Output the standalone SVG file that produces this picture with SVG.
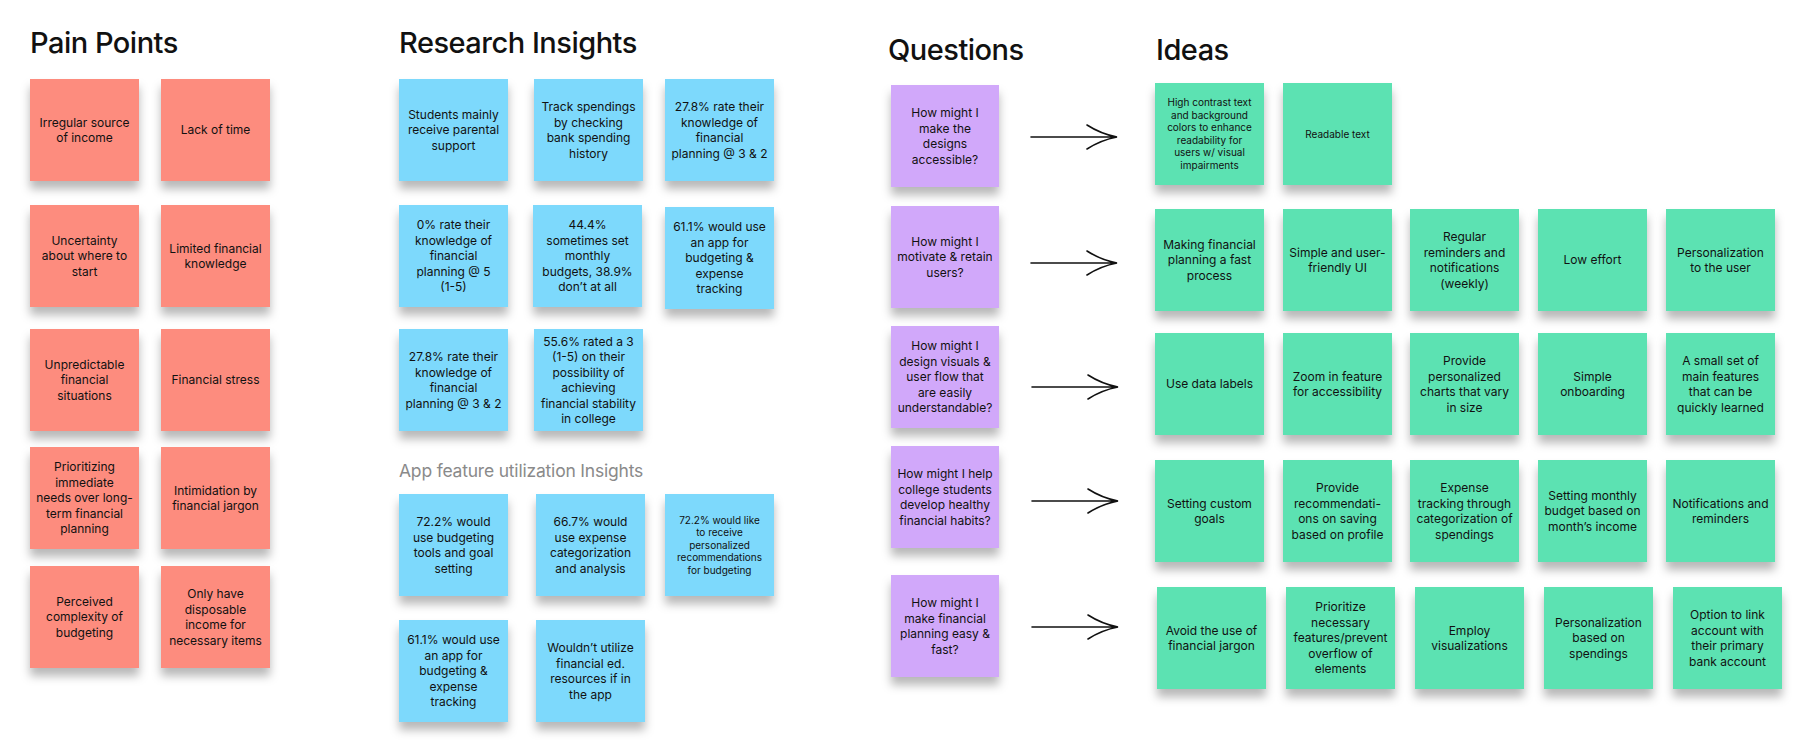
<svg xmlns="http://www.w3.org/2000/svg" width="1798" height="742" viewBox="0 0 1798 742">
<defs>
<filter id="sh" x="-20%" y="-20%" width="140%" height="160%">
<feDropShadow dx="0" dy="8" stdDeviation="5" flood-color="#000" flood-opacity="0.28"/>
</filter>
<style>
.pain{fill:#FD8C7E;filter:url(#sh)}
.blue{fill:#7DD9FC;filter:url(#sh)}
.purp{fill:#D1A8FA;filter:url(#sh)}
.green{fill:#5CE2B2;filter:url(#sh)}
.t{font-family:Inter,"Liberation Sans",sans-serif;font-size:12px;fill:#111;text-anchor:middle}
.s{font-family:Inter,"Liberation Sans",sans-serif;font-size:10px;fill:#111;text-anchor:middle}
.h{font-family:Inter,"Liberation Sans",sans-serif;font-size:29px;font-weight:500;fill:#111;letter-spacing:-0.5px}
.sub{font-family:Inter,"Liberation Sans",sans-serif;font-size:17.5px;fill:#8a8a8a;letter-spacing:-0.2px}
.arr{fill:none;stroke:#111;stroke-width:1.6;stroke-linecap:round}
</style>
</defs>
<rect width="1798" height="742" fill="#fff"/>

<text class="h" x="30" y="53">Pain Points</text>
<text class="h" x="399" y="53">Research Insights</text>
<text class="sub" x="399" y="477">App feature utilization Insights</text>
<text class="h" x="888" y="60">Questions</text>
<text class="h" x="1156" y="60">Ideas</text>

<!-- Pain points -->
<g id="p1"><rect class="pain" x="30" y="79" width="109" height="102"/><text class="t" y="126.5"><tspan x="84.5">Irregular source</tspan><tspan x="84.5" dy="15.5">of income</tspan></text></g>
<g id="p2"><rect class="pain" x="161" y="79" width="109" height="102"/><text class="t" y="134.3"><tspan x="215.5">Lack of time</tspan></text></g>
<g id="p3"><rect class="pain" x="30" y="205" width="109" height="102"/><text class="t" y="244.8"><tspan x="84.5">Uncertainty</tspan><tspan x="84.5" dy="15.5">about where to</tspan><tspan x="84.5" dy="15.5">start</tspan></text></g>
<g id="p4"><rect class="pain" x="161" y="205" width="109" height="102"/><text class="t" y="252.5"><tspan x="215.5">Limited financial</tspan><tspan x="215.5" dy="15.5">knowledge</tspan></text></g>
<g id="p5"><rect class="pain" x="30" y="329" width="109" height="102"/><text class="t" y="368.8"><tspan x="84.5">Unpredictable</tspan><tspan x="84.5" dy="15.5">financial</tspan><tspan x="84.5" dy="15.5">situations</tspan></text></g>
<g id="p6"><rect class="pain" x="161" y="329" width="109" height="102"/><text class="t" y="384.3"><tspan x="215.5">Financial stress</tspan></text></g>
<g id="p7"><rect class="pain" x="30" y="447" width="109" height="102"/><text class="t" y="471.3"><tspan x="84.5">Prioritizing</tspan><tspan x="84.5" dy="15.5">immediate</tspan><tspan x="84.5" dy="15.5">needs over long-</tspan><tspan x="84.5" dy="15.5">term financial</tspan><tspan x="84.5" dy="15.5">planning</tspan></text></g>
<g id="p8"><rect class="pain" x="161" y="447" width="109" height="102"/><text class="t" y="494.5"><tspan x="215.5">Intimidation by</tspan><tspan x="215.5" dy="15.5">financial jargon</tspan></text></g>
<g id="p9"><rect class="pain" x="30" y="566" width="109" height="102"/><text class="t" y="605.8"><tspan x="84.5">Perceived</tspan><tspan x="84.5" dy="15.5">complexity of</tspan><tspan x="84.5" dy="15.5">budgeting</tspan></text></g>
<g id="p10"><rect class="pain" x="161" y="566" width="109" height="102"/><text class="t" y="598"><tspan x="215.5">Only have</tspan><tspan x="215.5" dy="15.5">disposable</tspan><tspan x="215.5" dy="15.5">income for</tspan><tspan x="215.5" dy="15.5">necessary items</tspan></text></g>

<!-- Research insights -->
<g id="r1"><rect class="blue" x="399" y="79" width="109" height="102"/><text class="t" y="118.8"><tspan x="453.5">Students mainly</tspan><tspan x="453.5" dy="15.5">receive parental</tspan><tspan x="453.5" dy="15.5">support</tspan></text></g>
<g id="r2"><rect class="blue" x="534" y="79" width="109" height="102"/><text class="t" y="111"><tspan x="588.5">Track spendings</tspan><tspan x="588.5" dy="15.5">by checking</tspan><tspan x="588.5" dy="15.5">bank spending</tspan><tspan x="588.5" dy="15.5">history</tspan></text></g>
<g id="r3"><rect class="blue" x="665" y="79" width="109" height="102"/><text class="t" y="111"><tspan x="719.5">27.8% rate their</tspan><tspan x="719.5" dy="15.5">knowledge of</tspan><tspan x="719.5" dy="15.5">financial</tspan><tspan x="719.5" dy="15.5">planning @ 3 &amp; 2</tspan></text></g>
<g id="r4"><rect class="blue" x="399" y="205" width="109" height="102"/><text class="t" y="229.3"><tspan x="453.5">0% rate their</tspan><tspan x="453.5" dy="15.5">knowledge of</tspan><tspan x="453.5" dy="15.5">financial</tspan><tspan x="453.5" dy="15.5">planning @ 5</tspan><tspan x="453.5" dy="15.5">(1-5)</tspan></text></g>
<g id="r5"><rect class="blue" x="533" y="205" width="109" height="102"/><text class="t" y="229.3"><tspan x="587.5">44.4%</tspan><tspan x="587.5" dy="15.5">sometimes set</tspan><tspan x="587.5" dy="15.5">monthly</tspan><tspan x="587.5" dy="15.5">budgets, 38.9%</tspan><tspan x="587.5" dy="15.5">don’t at all</tspan></text></g>
<g id="r6"><rect class="blue" x="665" y="207" width="109" height="102"/><text class="t" y="231.3"><tspan x="719.5">61.1% would use</tspan><tspan x="719.5" dy="15.5">an app for</tspan><tspan x="719.5" dy="15.5">budgeting &amp;</tspan><tspan x="719.5" dy="15.5">expense</tspan><tspan x="719.5" dy="15.5">tracking</tspan></text></g>
<g id="r7"><rect class="blue" x="399" y="329" width="109" height="102"/><text class="t" y="361"><tspan x="453.5">27.8% rate their</tspan><tspan x="453.5" dy="15.5">knowledge of</tspan><tspan x="453.5" dy="15.5">financial</tspan><tspan x="453.5" dy="15.5">planning @ 3 &amp; 2</tspan></text></g>
<g id="r8"><rect class="blue" x="534" y="329" width="109" height="102"/><text class="t" y="345.5"><tspan x="588.5">55.6% rated a 3</tspan><tspan x="588.5" dy="15.5">(1-5) on their</tspan><tspan x="588.5" dy="15.5">possibility of</tspan><tspan x="588.5" dy="15.5">achieving</tspan><tspan x="588.5" dy="15.5">financial stability</tspan><tspan x="588.5" dy="15.5">in college</tspan></text></g>

<!-- App feature utilization insights -->
<g id="a1"><rect class="blue" x="399" y="494" width="109" height="102"/><text class="t" y="526"><tspan x="453.5">72.2% would</tspan><tspan x="453.5" dy="15.5">use budgeting</tspan><tspan x="453.5" dy="15.5">tools and goal</tspan><tspan x="453.5" dy="15.5">setting</tspan></text></g>
<g id="a2"><rect class="blue" x="536" y="494" width="109" height="102"/><text class="t" y="526"><tspan x="590.5">66.7% would</tspan><tspan x="590.5" dy="15.5">use expense</tspan><tspan x="590.5" dy="15.5">categorization</tspan><tspan x="590.5" dy="15.5">and analysis</tspan></text></g>
<g id="a3"><rect class="blue" x="665" y="494" width="109" height="102"/><text class="s" y="523.6"><tspan x="719.5">72.2% would like</tspan><tspan x="719.5" dy="12.5">to receive</tspan><tspan x="719.5" dy="12.5">personalized</tspan><tspan x="719.5" dy="12.5">recommendations</tspan><tspan x="719.5" dy="12.5">for budgeting</tspan></text></g>
<g id="a4"><rect class="blue" x="399" y="620" width="109" height="102"/><text class="t" y="644.3"><tspan x="453.5">61.1% would use</tspan><tspan x="453.5" dy="15.5">an app for</tspan><tspan x="453.5" dy="15.5">budgeting &amp;</tspan><tspan x="453.5" dy="15.5">expense</tspan><tspan x="453.5" dy="15.5">tracking</tspan></text></g>
<g id="a5"><rect class="blue" x="536" y="620" width="109" height="102"/><text class="t" y="652"><tspan x="590.5">Wouldn’t utilize</tspan><tspan x="590.5" dy="15.5">financial ed.</tspan><tspan x="590.5" dy="15.5">resources if in</tspan><tspan x="590.5" dy="15.5">the app</tspan></text></g>

<!-- Questions -->
<g id="q1"><rect class="purp" x="891" y="85" width="108" height="102"/><text class="t" y="117"><tspan x="945">How might I</tspan><tspan x="945" dy="15.5">make the</tspan><tspan x="945" dy="15.5">designs</tspan><tspan x="945" dy="15.5">accessible?</tspan></text></g>
<g id="q2"><rect class="purp" x="891" y="206" width="108" height="102"/><text class="t" y="245.8"><tspan x="945">How might I</tspan><tspan x="945" dy="15.5">motivate &amp; retain</tspan><tspan x="945" dy="15.5">users?</tspan></text></g>
<g id="q3"><rect class="purp" x="891" y="326" width="108" height="102"/><text class="t" y="350.3"><tspan x="945">How might I</tspan><tspan x="945" dy="15.5">design visuals &amp;</tspan><tspan x="945" dy="15.5">user flow that</tspan><tspan x="945" dy="15.5">are easily</tspan><tspan x="945" dy="15.5">understandable?</tspan></text></g>
<g id="q4"><rect class="purp" x="891" y="446" width="108" height="102"/><text class="t" y="478"><tspan x="945">How might I help</tspan><tspan x="945" dy="15.5">college students</tspan><tspan x="945" dy="15.5">develop healthy</tspan><tspan x="945" dy="15.5">financial habits?</tspan></text></g>
<g id="q5"><rect class="purp" x="891" y="575" width="108" height="102"/><text class="t" y="607"><tspan x="945">How might I</tspan><tspan x="945" dy="15.5">make financial</tspan><tspan x="945" dy="15.5">planning easy &amp;</tspan><tspan x="945" dy="15.5">fast?</tspan></text></g>

<!-- Connectors -->
<g id="connectors">
<path class="arr" d="M1031,137 H1116 M1087,125 Q1101,134 1117,137 Q1101,140 1087,149"/>
<path class="arr" d="M1031,263 H1116 M1087,251 Q1101,260 1117,263 Q1101,266 1087,275"/>
<path class="arr" d="M1032,387 H1117 M1088,375 Q1102,384 1118,387 Q1102,390 1088,399"/>
<path class="arr" d="M1032,501 H1117 M1088,489 Q1102,498 1118,501 Q1102,504 1088,513"/>
<path class="arr" d="M1032,627 H1117 M1088,615 Q1102,624 1118,627 Q1102,630 1088,639"/>
</g>

<!-- Ideas row 1 -->
<g id="i11"><rect class="green" x="1155" y="83" width="109" height="102"/><text class="s" y="106.4"><tspan x="1209.5">High contrast text</tspan><tspan x="1209.5" dy="12.5">and background</tspan><tspan x="1209.5" dy="12.5">colors to enhance</tspan><tspan x="1209.5" dy="12.5">readability for</tspan><tspan x="1209.5" dy="12.5">users w/ visual</tspan><tspan x="1209.5" dy="12.5">impairments</tspan></text></g>
<g id="i12"><rect class="green" x="1283" y="83" width="109" height="102"/><text class="s" y="137.6"><tspan x="1337.5">Readable text</tspan></text></g>

<!-- Ideas row 2 -->
<g id="i21"><rect class="green" x="1155" y="209" width="109" height="102"/><text class="t" y="248.8"><tspan x="1209.5">Making financial</tspan><tspan x="1209.5" dy="15.5">planning a fast</tspan><tspan x="1209.5" dy="15.5">process</tspan></text></g>
<g id="i22"><rect class="green" x="1283" y="209" width="109" height="102"/><text class="t" y="256.5"><tspan x="1337.5">Simple and user-</tspan><tspan x="1337.5" dy="15.5">friendly UI</tspan></text></g>
<g id="i23"><rect class="green" x="1410" y="209" width="109" height="102"/><text class="t" y="241"><tspan x="1464.5">Regular</tspan><tspan x="1464.5" dy="15.5">reminders and</tspan><tspan x="1464.5" dy="15.5">notifications</tspan><tspan x="1464.5" dy="15.5">(weekly)</tspan></text></g>
<g id="i24"><rect class="green" x="1538" y="209" width="109" height="102"/><text class="t" y="264.3"><tspan x="1592.5">Low effort</tspan></text></g>
<g id="i25"><rect class="green" x="1666" y="209" width="109" height="102"/><text class="t" y="256.5"><tspan x="1720.5">Personalization</tspan><tspan x="1720.5" dy="15.5">to the user</tspan></text></g>

<!-- Ideas row 3 -->
<g id="i31"><rect class="green" x="1155" y="333" width="109" height="102"/><text class="t" y="388.3"><tspan x="1209.5">Use data labels</tspan></text></g>
<g id="i32"><rect class="green" x="1283" y="333" width="109" height="102"/><text class="t" y="380.5"><tspan x="1337.5">Zoom in feature</tspan><tspan x="1337.5" dy="15.5">for accessibility</tspan></text></g>
<g id="i33"><rect class="green" x="1410" y="333" width="109" height="102"/><text class="t" y="365"><tspan x="1464.5">Provide</tspan><tspan x="1464.5" dy="15.5">personalized</tspan><tspan x="1464.5" dy="15.5">charts that vary</tspan><tspan x="1464.5" dy="15.5">in size</tspan></text></g>
<g id="i34"><rect class="green" x="1538" y="333" width="109" height="102"/><text class="t" y="380.5"><tspan x="1592.5">Simple</tspan><tspan x="1592.5" dy="15.5">onboarding</tspan></text></g>
<g id="i35"><rect class="green" x="1666" y="333" width="109" height="102"/><text class="t" y="365"><tspan x="1720.5">A small set of</tspan><tspan x="1720.5" dy="15.5">main features</tspan><tspan x="1720.5" dy="15.5">that can be</tspan><tspan x="1720.5" dy="15.5">quickly learned</tspan></text></g>

<!-- Ideas row 4 -->
<g id="i41"><rect class="green" x="1155" y="460" width="109" height="102"/><text class="t" y="507.5"><tspan x="1209.5">Setting custom</tspan><tspan x="1209.5" dy="15.5">goals</tspan></text></g>
<g id="i42"><rect class="green" x="1283" y="460" width="109" height="102"/><text class="t" y="492"><tspan x="1337.5">Provide</tspan><tspan x="1337.5" dy="15.5">recommendati-</tspan><tspan x="1337.5" dy="15.5">ons on saving</tspan><tspan x="1337.5" dy="15.5">based on profile</tspan></text></g>
<g id="i43"><rect class="green" x="1410" y="460" width="109" height="102"/><text class="t" y="492"><tspan x="1464.5">Expense</tspan><tspan x="1464.5" dy="15.5">tracking through</tspan><tspan x="1464.5" dy="15.5">categorization of</tspan><tspan x="1464.5" dy="15.5">spendings</tspan></text></g>
<g id="i44"><rect class="green" x="1538" y="460" width="109" height="102"/><text class="t" y="499.8"><tspan x="1592.5">Setting monthly</tspan><tspan x="1592.5" dy="15.5">budget based on</tspan><tspan x="1592.5" dy="15.5">month’s income</tspan></text></g>
<g id="i45"><rect class="green" x="1666" y="460" width="109" height="102"/><text class="t" y="507.5"><tspan x="1720.5">Notifications and</tspan><tspan x="1720.5" dy="15.5">reminders</tspan></text></g>

<!-- Ideas row 5 -->
<g id="i51"><rect class="green" x="1157" y="587" width="109" height="102"/><text class="t" y="634.5"><tspan x="1211.5">Avoid the use of</tspan><tspan x="1211.5" dy="15.5">financial jargon</tspan></text></g>
<g id="i52"><rect class="green" x="1286" y="587" width="109" height="102"/><text class="t" y="611.3"><tspan x="1340.5">Prioritize</tspan><tspan x="1340.5" dy="15.5">necessary</tspan><tspan x="1340.5" dy="15.5">features/prevent</tspan><tspan x="1340.5" dy="15.5">overflow of</tspan><tspan x="1340.5" dy="15.5">elements</tspan></text></g>
<g id="i53"><rect class="green" x="1415" y="587" width="109" height="102"/><text class="t" y="634.5"><tspan x="1469.5">Employ</tspan><tspan x="1469.5" dy="15.5">visualizations</tspan></text></g>
<g id="i54"><rect class="green" x="1544" y="587" width="109" height="102"/><text class="t" y="626.8"><tspan x="1598.5">Personalization</tspan><tspan x="1598.5" dy="15.5">based on</tspan><tspan x="1598.5" dy="15.5">spendings</tspan></text></g>
<g id="i55"><rect class="green" x="1673" y="587" width="109" height="102"/><text class="t" y="619"><tspan x="1727.5">Option to link</tspan><tspan x="1727.5" dy="15.5">account with</tspan><tspan x="1727.5" dy="15.5">their primary</tspan><tspan x="1727.5" dy="15.5">bank account</tspan></text></g>
</svg>
